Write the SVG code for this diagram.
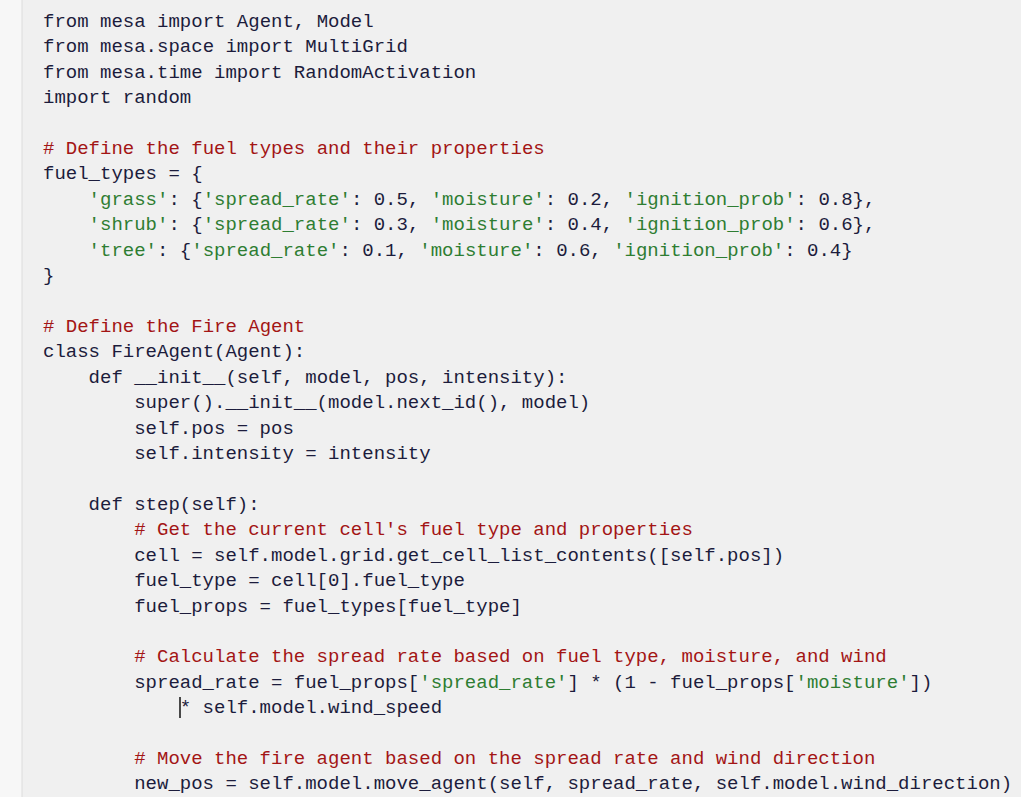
<svg xmlns="http://www.w3.org/2000/svg" width="1021" height="797" viewBox="0 0 1021 797">
<style>
text{font-family:"Liberation Mono","DejaVu Sans Mono",monospace;font-size:19px;fill:#1c1c3c;white-space:pre}
.c{fill:#a31515}
.s{fill:#2e7d32}
</style>
<rect width="1021" height="797" fill="#f0f0f0"/>
<rect width="22" height="797" fill="#f7f7f7"/>
<line x1="22" y1="0" x2="22" y2="797" stroke="#dcdcdc" stroke-width="1"/>
<g id="code" xml:space="preserve">
<text x="43" y="27">from mesa import Agent, Model</text>
<text x="43" y="52">from mesa.space import MultiGrid</text>
<text x="43" y="78">from mesa.time import RandomActivation</text>
<text x="43" y="103">import random</text>
<text x="43" y="154" class="c"># Define the fuel types and their properties</text>
<text x="43" y="179">fuel_types = {</text>
<text x="88.6" y="205"><tspan class="s">'grass'</tspan>: {<tspan class="s">'spread_rate'</tspan>: 0.5, <tspan class="s">'moisture'</tspan>: 0.2, <tspan class="s">'ignition_prob'</tspan>: 0.8},</text>
<text x="88.6" y="230"><tspan class="s">'shrub'</tspan>: {<tspan class="s">'spread_rate'</tspan>: 0.3, <tspan class="s">'moisture'</tspan>: 0.4, <tspan class="s">'ignition_prob'</tspan>: 0.6},</text>
<text x="88.6" y="256"><tspan class="s">'tree'</tspan>: {<tspan class="s">'spread_rate'</tspan>: 0.1, <tspan class="s">'moisture'</tspan>: 0.6, <tspan class="s">'ignition_prob'</tspan>: 0.4}</text>
<text x="43" y="281">}</text>
<text x="43" y="332" class="c"># Define the Fire Agent</text>
<text x="43" y="357">class FireAgent(Agent):</text>
<text x="88.6" y="383">def __init__(self, model, pos, intensity):</text>
<text x="134.2" y="408">super().__init__(model.next_id(), model)</text>
<text x="134.2" y="434">self.pos = pos</text>
<text x="134.2" y="459">self.intensity = intensity</text>
<text x="88.6" y="510">def step(self):</text>
<text x="134.2" y="535" class="c"># Get the current cell's fuel type and properties</text>
<text x="134.2" y="561">cell = self.model.grid.get_cell_list_contents([self.pos])</text>
<text x="134.2" y="586">fuel_type = cell[0].fuel_type</text>
<text x="134.2" y="612">fuel_props = fuel_types[fuel_type]</text>
<text x="134.2" y="662" class="c"># Calculate the spread rate based on fuel type, moisture, and wind</text>
<text x="134.2" y="688">spread_rate = fuel_props[<tspan class="s">'spread_rate'</tspan>] * (1 - fuel_props[<tspan class="s">'moisture'</tspan>])</text>
<text x="179.8" y="713">* self.model.wind_speed</text>
<text x="134.2" y="764" class="c"># Move the fire agent based on the spread rate and wind direction</text>
<text x="134.2" y="789">new_pos = self.model.move_agent(self, spread_rate, self.model.wind_direction)</text>
</g>
<line x1="180" y1="697" x2="180" y2="718" stroke="#111" stroke-width="1.5"/>
</svg>
